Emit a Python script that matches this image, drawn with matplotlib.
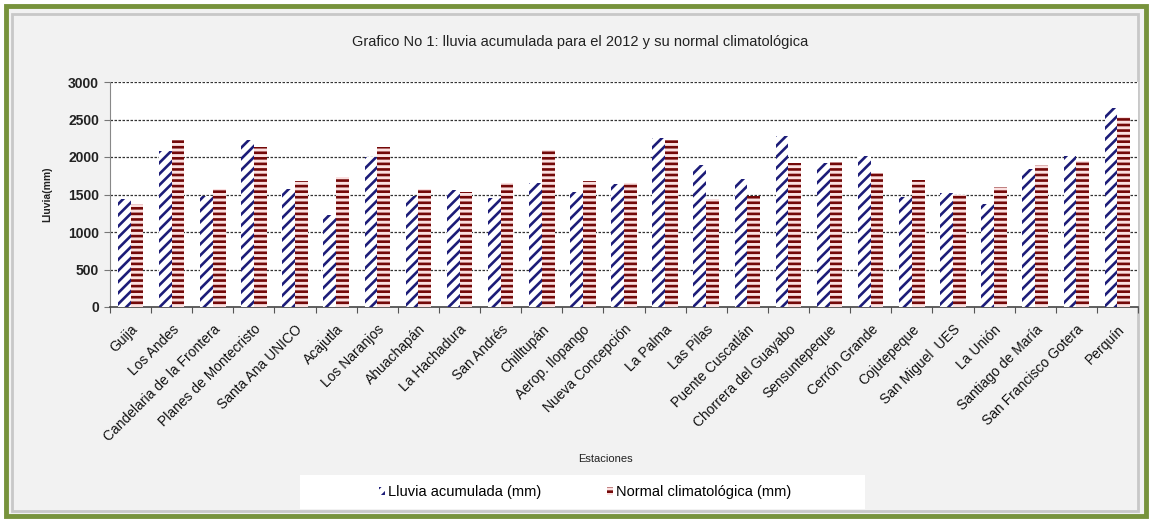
import matplotlib
matplotlib.use("Agg")
import matplotlib.pyplot as plt
import numpy as np
from matplotlib.patches import Rectangle, Patch

plt.rcParams['font.family'] = ['Liberation Sans', 'DejaVu Sans']

estaciones = ["Guija", "Los Andes", "Candelaria de la Frontera", "Planes de Montecristo",
              "Santa Ana UNICO", "Acajutla", "Los Naranjos", "Ahuachapán", "La Hachadura",
              "San Andrés", "Chilltupán", "Aerop. Ilopango", "Nueva Concepción", "La Palma",
              "Las Pilas", "Puente Cuscatlán", "Chorrera del Guayabo", "Sensuntepeque",
              "Cerrón Grande", "Cojutepeque", "San Miguel  UES", "La Unión",
              "Santiago de María", "San Francisco Gotera", "Perquín"]
lluvia_acumulada = [1440, 2080, 1480, 2230, 1580, 1230, 2000, 1480, 1560, 1450, 1650, 1530,
                    1640, 2250, 1900, 1710, 2280, 1920, 2020, 1470, 1520, 1370, 1840, 2010, 2660]
normal_climatologica = [1370, 2230, 1580, 2130, 1680, 1740, 2140, 1570, 1530, 1660, 2100, 1680,
                        1660, 2230, 1440, 1480, 1920, 1940, 1790, 1690, 1490, 1600, 1900, 1950, 2540]
yticks = [0, 500, 1000, 1500, 2000, 2500, 3000]

W, H = 1155, 520
fig = plt.figure(figsize=(W / 100, H / 100), dpi=100, facecolor='white')

# frame
fig.patches.append(Rectangle((6 / W, 4 / H), (1146 - 6) / W, (514 - 4) / H, transform=fig.transFigure,
                             facecolor='#f2f2f2', edgecolor='#77933c', linewidth=3.5, zorder=-3))
fig.patches.append(Rectangle((12 / W, 9 / H), (1138 - 12) / W, (506 - 9) / H, transform=fig.transFigure,
                             facecolor='none', edgecolor='#c8c8c8', linewidth=2, zorder=-2))

ax = fig.add_axes([110 / W, 1 - 307 / H, (1138 - 110) / W, (307 - 82) / H])
ax.set_facecolor('white')

x = np.arange(len(estaciones))
bw = 0.31
plt.rcParams['hatch.linewidth'] = 1.9
ax.bar(x - bw / 2, lluvia_acumulada, bw, facecolor='white', edgecolor='#1c1c78',
       hatch='///', linewidth=0, zorder=3)
ax.bar(x + bw / 2, normal_climatologica, bw, facecolor='#fbe0e0', edgecolor='#730808',
       hatch='---', linewidth=0, zorder=3)

ax.set_xlim(-0.5, len(estaciones) - 0.5)
ax.set_ylim(0, 3000)
ax.set_yticks(yticks)
ax.set_yticklabels([str(v) for v in yticks], fontsize=10, fontweight='bold', color='#222222')
for v in yticks[1:]:
    ax.axhline(v, color='#333333', linestyle=(0, (2, 1.2)), linewidth=0.9, zorder=1)

ax.set_xticks(np.arange(-0.5, len(estaciones) + 0.5, 1))
ax.set_xticklabels([])
ax.set_xticks(x, minor=True)
ax.set_xticklabels(estaciones, minor=True, rotation=45, ha='right', rotation_mode='anchor',
                   fontsize=10, color='#111111')
ax.tick_params(axis='x', which='minor', length=0, pad=11)
ax.tick_params(axis='x', which='major', length=4, direction='out', color='#555555')
ax.tick_params(axis='y', length=4, direction='out', color='#777777', pad=4)

for s in ['top', 'right']:
    ax.spines[s].set_visible(False)
ax.spines['left'].set_color('#888888')
ax.spines['bottom'].set_color('#444444')
ax.spines['bottom'].set_linewidth(1.2)

fig.text(580 / W, 1 - 42 / H, "Grafico No 1: lluvia acumulada para el 2012 y su normal climatológica",
         ha='center', va='center', fontsize=10.5, color='#222222')
fig.text(47 / W, 1 - 194 / H, "Lluvia(mm)", rotation=90, ha='center', va='center',
         fontsize=7.5, fontweight='bold', color='#222222')
fig.text(605 / W, 1 - 459 / H, "Estaciones", ha='center', va='center', fontsize=8, color='#222222')

# legend box
fig.patches.append(Rectangle((300 / W, 1 - 509 / H), (865 - 300) / W, (509 - 475) / H,
                             transform=fig.transFigure, facecolor='white', edgecolor='none', zorder=-1))
handles = [Patch(facecolor='white', edgecolor='#1c1c78', hatch='///', linewidth=0),
           Patch(facecolor='#fbe0e0', edgecolor='#730808', hatch='---', linewidth=0)]
fig.legend(handles, ["Lluvia acumulada (mm)", "Normal climatológica (mm)"], ncol=2,
           loc='center', bbox_to_anchor=(585 / W, 1 - 492 / H), frameon=False, fontsize=10.5,
           handlelength=0.4, handleheight=0.5, handletextpad=0.2, columnspacing=4.5)

fig.savefig("out.png", dpi=100, facecolor=fig.get_facecolor())
